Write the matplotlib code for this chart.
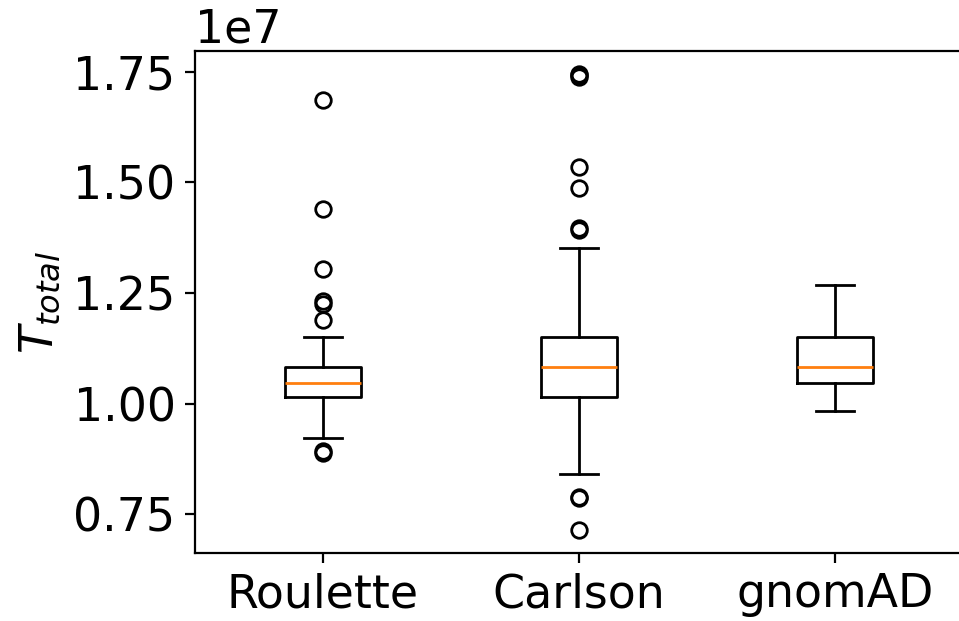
import matplotlib
matplotlib.use("Agg")
import matplotlib.pyplot as plt

categories = ["Roulette", "Carlson", "gnomAD"]
scale = 1e7
q1 = [1.015, 1.015, 1.047]
median = [1.047, 1.083, 1.083]
q3 = [1.083, 1.150, 1.150]
whisker_low = [0.923, 0.840, 0.984]
whisker_high = [1.150, 1.352, 1.269]
outliers = [
    [1.685, 1.440, 1.305, 1.232, 1.226, 1.188, 0.894, 0.889],
    [1.745, 1.742, 1.738, 1.534, 1.487, 1.397, 1.393, 0.790, 0.787, 0.714],
    [],
]

plt.rcParams["font.size"] = 16.5

fig = plt.figure(figsize=(9.59 / 2, 6.21 / 2), dpi=200)
ax = fig.add_axes([195 / 959, 1 - 553 / 621, 768 / 959, (553 - 51) / 621])

stats = []
for i, name in enumerate(categories):
    stats.append(dict(
        label=name,
        q1=q1[i] * scale, med=median[i] * scale, q3=q3[i] * scale,
        whislo=whisker_low[i] * scale, whishi=whisker_high[i] * scale,
        fliers=[v * scale for v in outliers[i]],
    ))

ax.bxp(stats, positions=[1, 2, 3], widths=0.3,
       flierprops=dict(markersize=5.6))
ax.set_ylabel("$T_{total}$")
ax.set_yticks([0.75e7, 1.0e7, 1.25e7, 1.5e7, 1.75e7])

fig.savefig("out.png", dpi=200)
